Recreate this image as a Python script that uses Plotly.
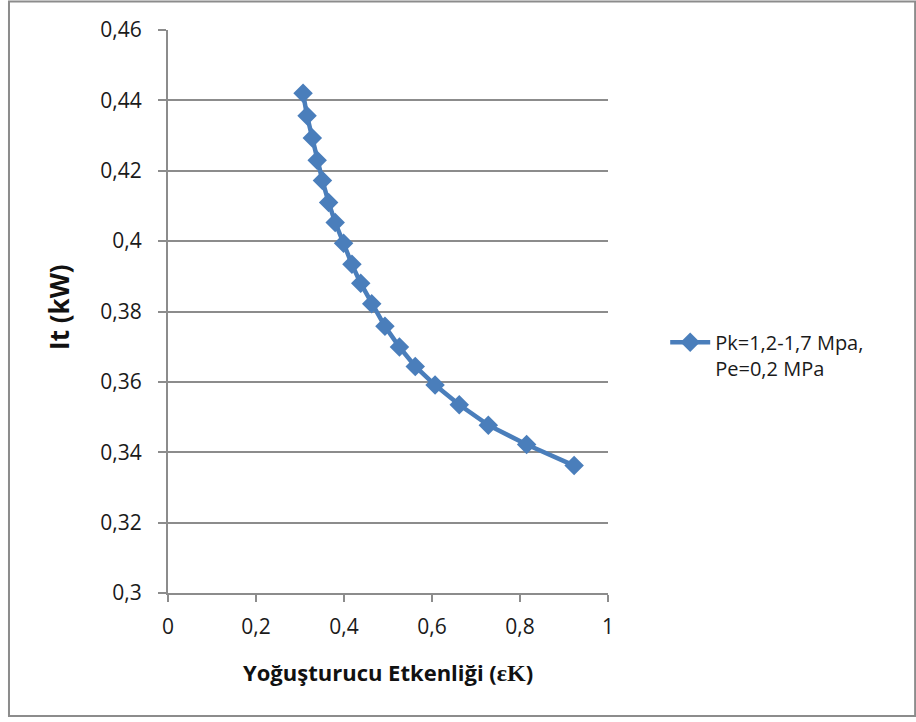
import plotly.graph_objects as go

# Condenser effectiveness vs. It power
effectiveness = [0.307, 0.316, 0.328, 0.339, 0.351, 0.365, 0.380, 0.399,
                 0.418, 0.438, 0.463, 0.493, 0.526, 0.562, 0.607, 0.662,
                 0.728, 0.815, 0.923]
it_kw = [0.4420, 0.4356, 0.4293, 0.4230, 0.4172, 0.4110, 0.4053, 0.3994,
         0.3934, 0.3880, 0.3822, 0.3758, 0.3699, 0.3644, 0.3591, 0.3535,
         0.3477, 0.3422, 0.3362]

series_name = "Pk=1,2-1,7 Mpa,<br>Pe=0,2 MPa"
x_ticks = [0, 0.2, 0.4, 0.6, 0.8, 1]
x_labels = ["0", "0,2", "0,4", "0,6", "0,8", "1"]
y_ticks = [0.30, 0.32, 0.34, 0.36, 0.38, 0.40, 0.42, 0.44, 0.46]
y_labels = ["0,3", "0,32", "0,34", "0,36", "0,38", "0,4", "0,42", "0,44", "0,46"]

BLUE = "#4a7ebb"
GRID = "#8c8c8c"
FONT = "Open Sans"

fig = go.Figure()
fig.add_trace(go.Scatter(
    x=effectiveness, y=it_kw, name=series_name,
    mode="lines+markers",
    line=dict(color=BLUE, width=4.5),
    marker=dict(symbol="diamond", size=15, color=BLUE),
    showlegend=True,
))

fig.update_layout(
    width=916, height=722,
    margin=dict(l=168, r=308, t=30, b=129),
    paper_bgcolor="white", plot_bgcolor="white",
    font=dict(family=FONT, size=21, color="#1a1a1a"),
    separators=",.",
    xaxis=dict(
        range=[0, 1], tickvals=x_ticks, ticktext=x_labels,
        showgrid=False, zeroline=False,
        showline=True, linecolor=GRID, linewidth=2,
        ticks="outside", ticklen=7, tickwidth=2, tickcolor=GRID,
        tickfont=dict(size=21), ticklabelstandoff=7,
    ),
    yaxis=dict(
        range=[0.3, 0.46], tickvals=y_ticks, ticktext=y_labels,
        showgrid=True, gridcolor=GRID, gridwidth=2, zeroline=False,
        showline=True, linecolor=GRID, linewidth=2,
        ticks="outside", ticklen=8, tickwidth=2, tickcolor=GRID,
        tickfont=dict(size=21), ticklabelstandoff=12,
    ),
    legend=dict(
        x=1.13, y=0.48, xanchor="left", yanchor="top", valign="top",
        font=dict(size=20), bgcolor="rgba(0,0,0,0)",
        itemwidth=40, tracegroupgap=0,
    ),
    shapes=[dict(
        type="rect", xref="paper", yref="paper",
        x0=-0.3614, x1=1.698, y0=-0.2183, y1=1.0506,
        line=dict(color="#8c8c8c", width=2), fillcolor="rgba(0,0,0,0)",
        layer="below",
    )],
    annotations=[
        dict(text="<b>It (kW)</b>", xref="paper", yref="paper",
             x=-0.248, y=0.508, xanchor="center", yanchor="middle",
             textangle=-90, showarrow=False,
             font=dict(size=26, family=FONT, color="#111111")),
        dict(text="<b>Yoğuşturucu Etkenliği (<span style='font-family:Liberation Serif;font-size:24px'>εK</span>)</b>",
             xref="paper", yref="paper", x=0.5, y=-0.14,
             xanchor="center", yanchor="middle", showarrow=False,
             font=dict(size=22, family=FONT, color="#111111")),
    ],
)

fig.write_html("out.html")
